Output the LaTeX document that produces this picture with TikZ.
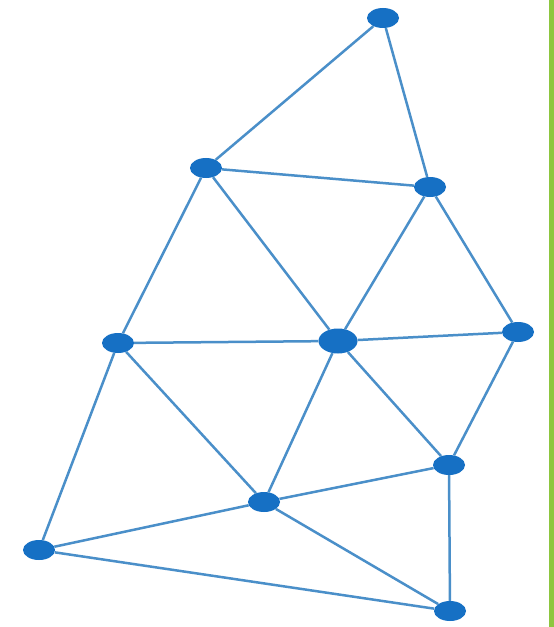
\documentclass[tikz,border=0pt]{standalone}
\usetikzlibrary{shapes.geometric}
\begin{document}
\begin{tikzpicture}[x=1bp,y=-1bp,
  vtx/.style={ellipse,fill=nodeblue,minimum width=32bp,minimum height=20bp,inner sep=0pt},
  bigvtx/.style={vtx,minimum width=39bp,minimum height=25bp},
  edge/.style={draw=lineblue,line width=2.5bp}]
\definecolor{nodeblue}{HTML}{1670C4}
\definecolor{lineblue}{HTML}{4A8FC9}
\definecolor{bargreen}{HTML}{8DC63F}
\useasboundingbox (0,0) rectangle (554,627);
\fill[white] (0,0) rectangle (554,627);
\fill[bargreen] (549,0) rectangle (554,627);
\node[vtx] (a) at (383,18) {};
\node[vtx] (b) at (206,168) {};
\node[vtx] (c) at (430,187) {};
\node[vtx] (d) at (118,343) {};
\node[bigvtx] (e) at (338,341) {};
\node[vtx] (f) at (518,332) {};
\node[vtx] (g) at (449,465) {};
\node[vtx] (h) at (264,502) {};
\node[vtx] (i) at (39,550) {};
\node[vtx] (j) at (450,611) {};
\foreach \u/\v in {a/b,a/c,b/c,b/d,b/e,c/e,c/f,d/e,e/f,f/g,e/g,e/h,d/h,d/i,h/g,h/i,h/j,i/j,g/j}
  \draw[edge] (\u) -- (\v);
\end{tikzpicture}
\end{document}
